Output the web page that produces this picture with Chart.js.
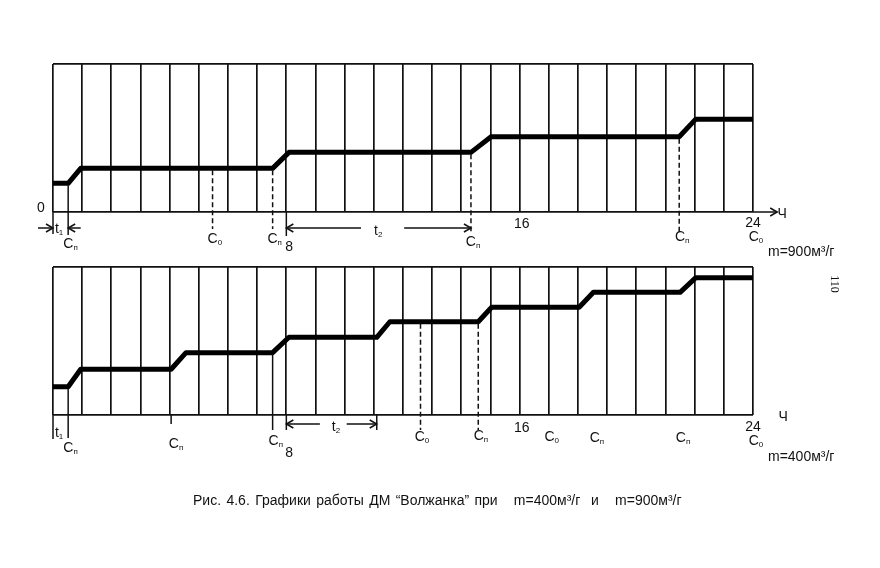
<!DOCTYPE html>
<html><head><meta charset="utf-8">
<script src="https://cdn.jsdelivr.net/npm/chart.js@4.4.1/dist/chart.umd.min.js"></script>
<style>
html,body{margin:0;padding:0;background:#fff;}
#wrap{position:relative;width:880px;height:568px;overflow:hidden;font-family:"Liberation Sans",Arial,sans-serif;color:#111;}
canvas{position:absolute;left:0;top:0;}
.t{position:absolute;white-space:pre;line-height:16px;}
</style></head>
<body><div id="wrap">
<canvas id="c1" width="880" height="568"></canvas>
<canvas id="c2" width="880" height="568"></canvas>
<div class="t" style="left:768px;top:243px;font-size:14px;">m=900м³/г</div>
<div class="t" style="left:768px;top:448px;font-size:14px;">m=400м³/г</div>
<div class="t" style="left:826px;top:276px;font-size:12px;font-family:'Liberation Serif',serif;transform:rotate(90deg);transform-origin:50% 50%;">110</div>
<div class="t" id="cap" style="left:193px;top:492px;font-size:14px;word-spacing:1.5px;">Рис. 4.6. Графики работы ДМ “Волжанка” при   m=400м³/г  и   m=900м³/г</div>
</div>
<script>
// ---- data (hours, relative level 0..100 of box height) ----
const topHours   = [0, 0.52, 0.95, 7.53, 8.09, 14.33, 15.02, 21.47, 22.03, 24];
const topLevels  = [19.4, 19.4, 29.5, 29.5, 40.3, 40.3, 50.9, 50.9, 62.6, 62.6];
const botHours   = [0, 0.52, 0.95, 4.05, 4.56, 7.53, 8.09, 11.1, 11.55, 14.58, 15.04, 18.04, 18.53, 21.5, 22.04, 24];
const botLevels  = [19.1, 19.1, 30.9, 30.9, 42.1, 42.1, 52.5, 52.5, 63.0, 63.0, 72.8, 72.8, 82.9, 82.9, 92.8, 92.8];
const hourTicks  = [0, 8, 16, 24];

// markers: [hour, level (null = from axis), extension below axis px, dashed]
const topMarks = [[0, null, 22, false], [0.52, 19.4, 23, false], [5.47, 29.5, 17, true], [7.53, 29.5, 17, true], [8, null, 24, false], [14.33, 40.3, 20, true], [21.47, 50.9, 20, true]];
const botMarks = [[0, null, 24, false], [0.52, 19.1, 23, false], [4.05, null, 9, false], [7.53, 42.1, 15, false], [8, null, 15, false], [11.1, null, 15, false], [12.6, 63.0, 15, true], [14.58, 63.0, 15, true]];
// labels: [text, subscript, hour, px below axis]
const topLabels = [["t","1",0.21,16],["C","п",0.6,31],["C","0",5.55,26],["C","п",7.6,26],["8","",8.1,34],["t","2",11.15,18],["C","п",14.4,29],["16","",16.07,11],["C","п",21.57,24],["24","",24,10],["C","0",24.1,24],["Ч","",25.0,1]];
const botLabels = [["t","1",0.21,17],["C","п",0.6,32],["C","п",4.22,28],["C","п",7.64,25],["8","",8.1,37],["t","2",9.7,11],["C","0",12.65,21],["C","п",14.67,20],["16","",16.07,12],["C","0",17.1,21],["C","п",18.65,22],["C","п",21.6,22],["24","",24,11],["C","0",24.1,25],["Ч","",25.03,1]];

const INK = '#111';
function label(ctx, x, y, txt, sub){
  ctx.font = '14px "Liberation Sans", Arial, sans-serif';
  const w1 = ctx.measureText(txt).width;
  ctx.font = '8px "Liberation Sans", Arial, sans-serif';
  const w2 = sub ? ctx.measureText(sub).width : 0;
  const x0 = x - (w1 + w2) / 2;
  ctx.fillStyle = INK;
  ctx.textBaseline = 'alphabetic';
  ctx.textAlign = 'left';
  ctx.font = '14px "Liberation Sans", Arial, sans-serif';
  ctx.fillText(txt, x0, y + 5);
  if (sub){ ctx.font = '8px "Liberation Sans", Arial, sans-serif'; ctx.fillText(sub, x0 + w1, y + 7); }
}
function arrowHead(ctx, x, y, dir){
  ctx.beginPath();
  ctx.moveTo(x - dir*7, y - 4); ctx.lineTo(x, y); ctx.lineTo(x - dir*7, y + 4);
  ctx.stroke();
}
function hline(ctx, x1, x2, y){ ctx.beginPath(); ctx.moveTo(x1, y); ctx.lineTo(x2, y); ctx.stroke(); }

function makeAnnot(marks, labels, isTop){
  return {
    id: 'annot',
    afterDatasetsDraw(chart){
      const ctx = chart.ctx, xs = chart.scales.x, ys = chart.scales.y;
      const base = ys.getPixelForValue(0);
      ctx.save();
      ctx.strokeStyle = INK; ctx.lineWidth = 1.5;
      marks.forEach(([h, lv, ext, dashed]) => {
        const x = xs.getPixelForValue(h);
        const y1 = lv === null ? base : ys.getPixelForValue(lv) + 2;
        ctx.setLineDash(dashed ? [5, 3] : []);
        ctx.beginPath(); ctx.moveTo(x, y1); ctx.lineTo(x, base + ext); ctx.stroke();
      });
      ctx.setLineDash([]);
      const px = h => xs.getPixelForValue(h);
      if (isTop){
        const ya = base + 16;
        hline(ctx, px(0) - 15, px(0), ya); arrowHead(ctx, px(0), ya, 1);
        hline(ctx, px(0.52), px(0.95), ya); arrowHead(ctx, px(0.52), ya, -1);
        hline(ctx, px(8), px(10.56), ya); arrowHead(ctx, px(8), ya, -1);
        hline(ctx, px(12.04), px(14.33), ya); arrowHead(ctx, px(14.33), ya, 1);
        hline(ctx, px(24), px(24.83), base); arrowHead(ctx, px(24.83), base, 1);
        label(ctx, px(0) - 12, base - 5, '0', '');
      } else {
        const ya = base + 9;
        hline(ctx, px(8), px(9.15), ya); arrowHead(ctx, px(8), ya, -1);
        hline(ctx, px(10.07), px(11.1), ya); arrowHead(ctx, px(11.1), ya, 1);
      }
      labels.forEach(([t, s, h, dy]) => label(ctx, px(h), base + dy, t, s));
      ctx.restore();
    }
  };
}

function build(id, hours, levels, marks, labels, isTop, padTop, padBottom){
  const pts = hours.map((h, i) => ({x: h, y: levels[i]}));
  return new Chart(document.getElementById(id), {
    type: 'line',
    data: { datasets: [{ data: pts, borderColor: '#000', borderWidth: 5, pointRadius: 0, tension: 0, borderJoinStyle: 'round', borderCapStyle: 'butt' }] },
    options: {
      responsive: false, animation: false, events: [],
      layout: { padding: { left: 53, right: 127, top: padTop, bottom: padBottom } },
      plugins: { legend: { display: false }, tooltip: { enabled: false }, title: { display: false } },
      scales: {
        x: { type: 'linear', min: 0, max: 24, afterFit: s => { s.height = 0; },
             ticks: { display: false, stepSize: 1 }, border: { display: false },
             grid: { drawTicks: false, color: INK, lineWidth: 1.7 } },
        y: { type: 'linear', min: 0, max: 100, afterFit: s => { s.width = 0; },
             ticks: { display: false, stepSize: 100 }, border: { display: false },
             grid: { drawTicks: false, color: INK, lineWidth: 1.7 } }
      }
    },
    plugins: [makeAnnot(marks, labels, isTop)]
  });
}
build('c1', topHours, topLevels, topMarks, topLabels, true, 64, 568 - 212);
build('c2', botHours, botLevels, botMarks, botLabels, false, 267, 568 - 415);
</script>
</body></html>
